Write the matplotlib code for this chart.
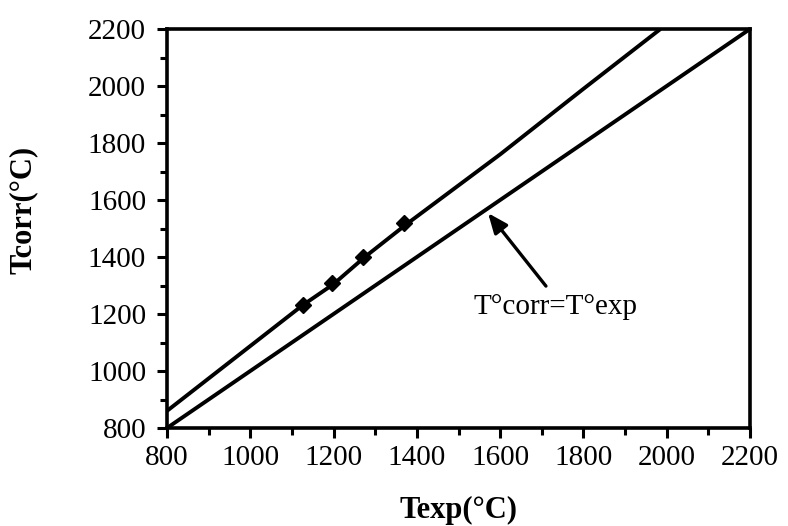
import numpy as np
import matplotlib.pyplot as plt
from matplotlib.ticker import MultipleLocator

plt.rcParams['font.family'] = ['Liberation Serif', 'DejaVu Serif']

# corrected temperature curve
t_exp = [800, 1125, 1200, 1275, 1375, 1600, 1800, 1985]
t_corr = [860, 1230, 1305, 1400, 1515, 1760, 1990, 2200]
# measured points (diamonds)
pts_exp = [1127, 1196, 1271, 1369]
pts_corr = [1232, 1309, 1400, 1519]
# identity line
ident = [800, 2200]

fig = plt.figure(figsize=(7.88, 5.26), dpi=100)
ax = fig.add_axes([167/788, 1-428/526, 583/788, 399/526])

ax.plot(t_exp, t_corr, color='black', lw=2.8, solid_capstyle='butt')
ax.plot(pts_exp, pts_corr, 'D', color='black', ms=8)
ax.plot(ident, ident, color='black', lw=2.8)

ax.annotate('', xy=(1571, 1554), xytext=(1710, 1298),
            arrowprops=dict(arrowstyle='-|>,head_length=1.2,head_width=0.5',
                            color='black', lw=2.4, shrinkA=0, shrinkB=0))
ax.text(1535, 1225, 'T°corr=T°exp', fontsize=21, va='center', ha='left')

ax.set_xlim(800, 2200)
ax.set_ylim(800, 2200)
ax.xaxis.set_major_locator(MultipleLocator(200))
ax.yaxis.set_major_locator(MultipleLocator(200))
ax.xaxis.set_minor_locator(MultipleLocator(100))
ax.yaxis.set_minor_locator(MultipleLocator(100))
ax.tick_params(which='major', length=7, width=2.2, labelsize=21, pad=5)
ax.tick_params(axis='y', which='major', pad=8)
ax.tick_params(which='minor', length=5, width=2.2)
for s in ax.spines.values():
    s.set_linewidth(2.6)

ax.set_xlabel('Texp(°C)', fontsize=22, fontweight='bold')
ax.set_ylabel('Tcorr(°C)', fontsize=22, fontweight='bold')
ax.xaxis.set_label_coords(0.5, -0.17)
ax.yaxis.set_label_coords(-0.221, 0.546)

fig.savefig('out.png', dpi=100)
